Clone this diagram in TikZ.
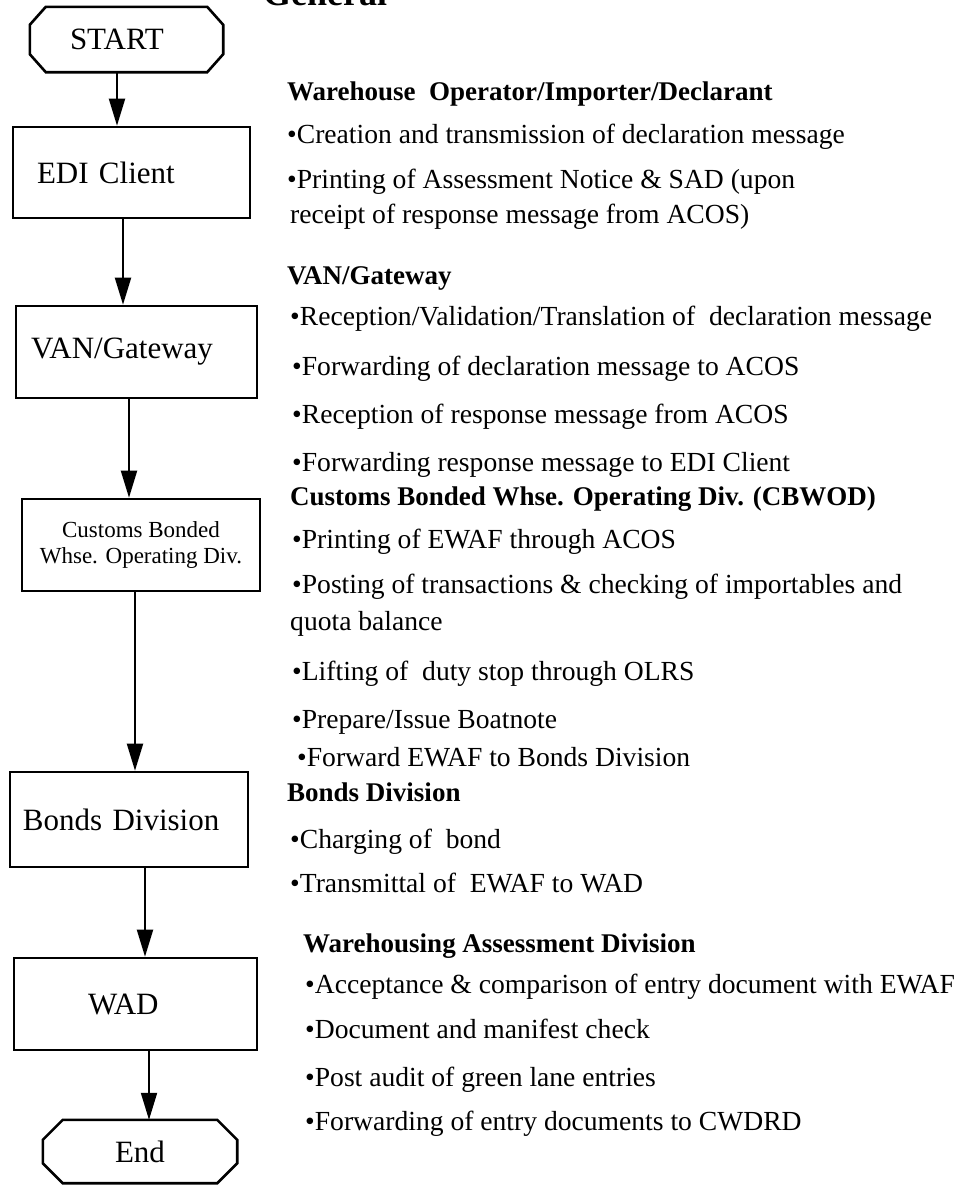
\documentclass[tikz,border=0pt]{standalone}
\usepackage{fontspec}
\setmainfont{Liberation Serif}
\usetikzlibrary{arrows.meta}
\begin{document}
\begin{tikzpicture}[x=1pt,y=-1pt,
  boxnode/.style={draw, line width=2.6pt, rectangle, inner ysep=0pt, font=\fontsize{31}{36}\selectfont},
  termnode/.style={rectangle, inner ysep=0pt, font=\fontsize{31}{36}\selectfont},
  octline/.style={line width=2.6pt, line join=miter},
  arr/.style={line width=1.9pt, -{Triangle[length=27pt,width=16pt]}},
  body/.style={anchor=base west, inner sep=0pt, font=\fontsize{27.6}{32}\selectfont},
  head/.style={anchor=base west, inner sep=0pt, font=\fontsize{27}{32}\selectfont\bfseries},
]
\useasboundingbox (0,0) rectangle (965,1186);

% cut-off title at the top
\node[anchor=base west, inner sep=0pt, font=\fontsize{36}{40}\selectfont\bfseries] (gen) at (263,5) {General};

% flow nodes
\node[termnode, minimum width=193pt, minimum height=65pt, text width=113pt, inner xsep=40pt, align=left] (start) at (126.5,39.5) {START};
\draw[octline] ([xshift=16pt]start.north west) -- ([xshift=-16pt]start.north east)
  -- ([yshift=-18pt]start.north east) -- ([yshift=18pt]start.south east)
  -- ([xshift=-16pt]start.south east) -- ([xshift=16pt]start.south west)
  -- ([yshift=18pt]start.south west) -- ([yshift=-18pt]start.north west) -- cycle;

\node[boxnode, minimum width=237pt, minimum height=91pt, text width=189pt, inner xsep=24pt, align=left] (edi) at (131.5,172.5) {EDI Client};
\node[boxnode, minimum width=241pt, minimum height=92pt, text width=211pt, inner xsep=15pt, align=left] (van) at (136.5,352) {VAN/Gateway};
\node[boxnode, minimum width=238pt, minimum height=92pt, align=center, font=\fontsize{23}{26}\selectfont] (cbw) at (141,545) {Customs Bonded\\Whse. Operating Div.};
\node[boxnode, minimum width=238pt, minimum height=95pt, text width=212pt, inner xsep=13pt, align=left] (bonds) at (129,819.5) {Bonds Division};
\node[boxnode, minimum width=243pt, minimum height=92pt, text width=95pt, inner xsep=74pt, align=left] (wad) at (135.5,1004) {WAD};

\node[termnode, minimum width=194pt, minimum height=63pt, inner xsep=0pt] (end) at (140,1151.5) {End};
\draw[octline] ([xshift=20pt]end.north west) -- ([xshift=-20pt]end.north east)
  -- ([yshift=-20pt]end.north east) -- ([yshift=20pt]end.south east)
  -- ([xshift=-20pt]end.south east) -- ([xshift=20pt]end.south west)
  -- ([yshift=20pt]end.south west) -- ([yshift=-20pt]end.north west) -- cycle;

% connectors
\coordinate (c1) at (117,0);
\coordinate (c2) at (123,0);
\coordinate (c3) at (129,0);
\coordinate (c4) at (135,0);
\coordinate (c5) at (145,0);
\coordinate (c6) at (149,0);
\draw[arr] (start.south -| c1) -- (edi.north -| c1);
\draw[arr] (edi.south -| c2) -- (van.north -| c2);
\draw[arr] (van.south -| c3) -- (cbw.north -| c3);
\draw[arr] (cbw.south -| c4) -- (bonds.north -| c4);
\draw[arr] (bonds.south -| c5) -- (wad.north -| c5);
\draw[arr] (wad.south -| c6) -- (end.north -| c6);

% descriptions
\node[head] (t1) at (287,100) {Warehouse\ \ Operator/Importer/Declarant};
\node[body] (t2) at (287,143) {•Creation and transmission of declaration message};
\node[body] (t3) at (287,188) {•Printing of Assessment Notice \& SAD (upon};
\node[body] (t4) at (290,223) {receipt of response message from ACOS)};

\node[head] (t5) at (287,284) {VAN/Gateway};
\node[body] (t6) at (290,325) {•Reception/Validation/Translation of\ \ declaration message};
\node[body] (t7) at (292,375) {•Forwarding of declaration message to ACOS};
\node[body] (t8) at (292,423) {•Reception of response message from ACOS};
\node[body] (t9) at (292,471) {•Forwarding response message to EDI Client};

\node[head] (t10) at (290,505) {Customs Bonded Whse. Operating Div. (CBWOD)};
\node[body] (t11) at (292,548) {•Printing of EWAF through ACOS};
\node[body] (t12) at (292,593) {•Posting of transactions \& checking of importables and};
\node[body] (t13) at (290,630) {quota balance};
\node[body] (t14) at (292,680) {•Lifting of\ \ duty stop through OLRS};
\node[body] (t15) at (292,728) {•Prepare/Issue Boatnote};
\node[body] (t16) at (297,766) {•Forward EWAF to Bonds Division};

\node[head] (t17) at (287,801) {Bonds Division};
\node[body] (t18) at (290,848) {•Charging of\ \ bond};
\node[body] (t19) at (290,892) {•Transmittal of\ \ EWAF to WAD};

\node[head] (t20) at (303,952) {Warehousing Assessment Division};
\node[body] (t21) at (305,993) {•Acceptance \& comparison of entry document with EWAF};
\node[body] (t22) at (305,1038) {•Document and manifest check};
\node[body] (t23) at (305,1086) {•Post audit of green lane entries};
\node[body] (t24) at (305,1130) {•Forwarding of entry documents to CWDRD};
\end{tikzpicture}
\end{document}
